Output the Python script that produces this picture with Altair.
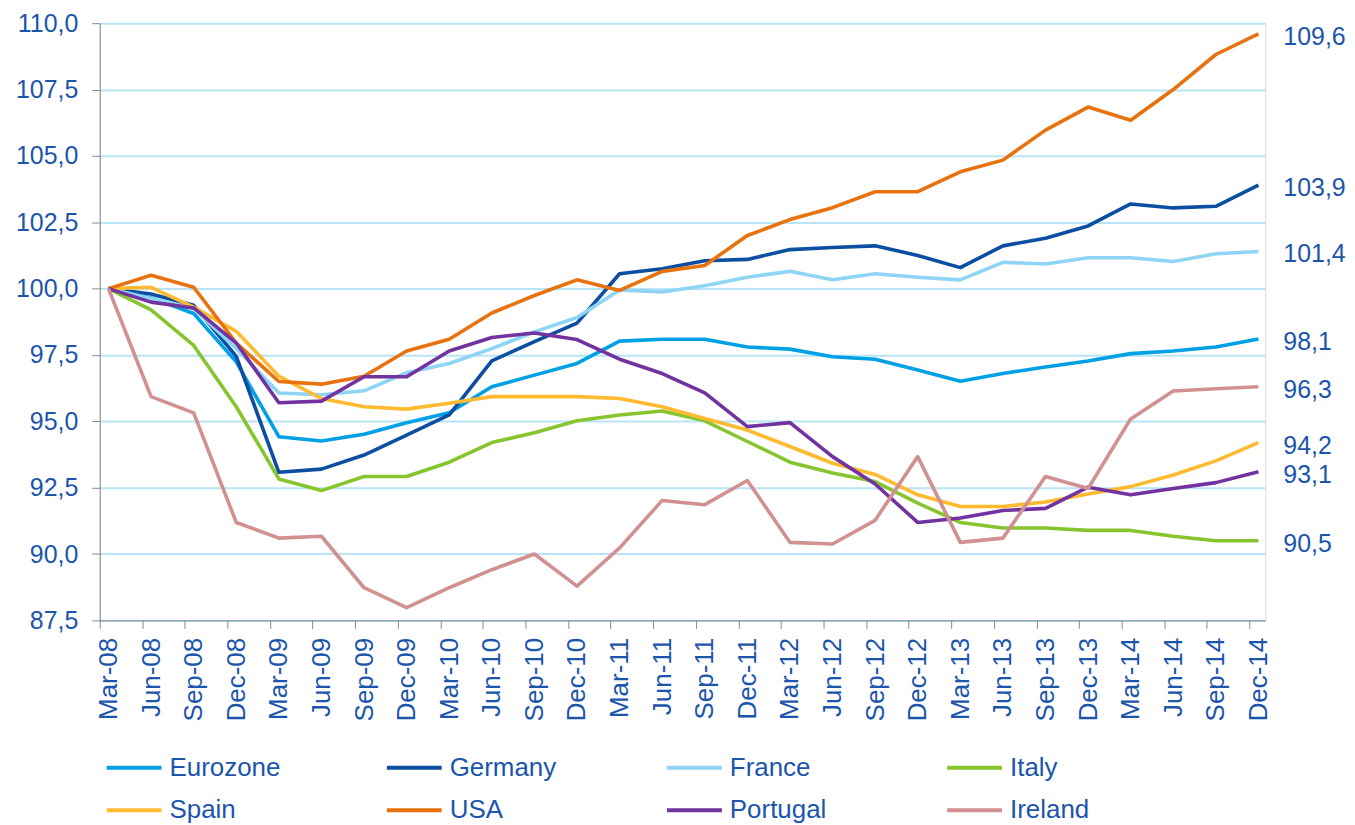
import altair as alt
import pandas as pd

quarters = ["Mar-08", "Jun-08", "Sep-08", "Dec-08", "Mar-09", "Jun-09", "Sep-09", "Dec-09",
            "Mar-10", "Jun-10", "Sep-10", "Dec-10", "Mar-11", "Jun-11", "Sep-11", "Dec-11",
            "Mar-12", "Jun-12", "Sep-12", "Dec-12", "Mar-13", "Jun-13", "Sep-13", "Dec-13",
            "Mar-14", "Jun-14", "Sep-14", "Dec-14"]

countries = ["Eurozone", "Germany", "France", "Italy", "Spain", "USA", "Portugal", "Ireland"]
colors = ["#00A0E4", "#0B4EA2", "#8ED4F5", "#86C52E", "#FFBA30", "#E8720E", "#7232A0", "#D09190"]

eurozone = [100.0, 99.65, 99.06, 97.24, 94.42, 94.26, 94.51, 94.95, 95.32, 96.3, 96.74, 97.18,
            98.02, 98.09, 98.09, 97.8, 97.72, 97.43, 97.34, 96.93, 96.51, 96.8, 97.05, 97.27,
            97.55, 97.65, 97.8, 98.1]
germany = [100.0, 99.8, 99.37, 97.45, 93.08, 93.2, 93.73, 94.48, 95.24, 97.28, 98.0, 98.7,
           100.56, 100.75, 101.05, 101.1, 101.47, 101.55, 101.61, 101.25, 100.79, 101.61, 101.9, 102.36,
           103.19, 103.04, 103.1, 103.9]
france = [100.0, 99.63, 99.25, 97.74, 96.07, 96.0, 96.15, 96.83, 97.18, 97.74, 98.37, 98.91,
          99.95, 99.87, 100.11, 100.43, 100.65, 100.33, 100.56, 100.43, 100.33, 100.99, 100.93, 101.16,
          101.16, 101.02, 101.31, 101.4]
italy = [100.0, 99.2, 97.86, 95.55, 92.83, 92.39, 92.92, 92.92, 93.46, 94.2, 94.57, 95.02,
         95.24, 95.39, 95.02, 94.24, 93.46, 93.05, 92.73, 91.92, 91.19, 90.98, 90.98, 90.89,
         90.89, 90.67, 90.5, 90.5]
spain = [100.0, 100.05, 99.3, 98.39, 96.7, 95.86, 95.55, 95.46, 95.68, 95.93, 95.93, 95.93,
         95.86, 95.55, 95.11, 94.67, 94.05, 93.42, 93.0, 92.23, 91.79, 91.79, 91.96, 92.26,
         92.54, 92.98, 93.51, 94.2]
usa = [100.0, 100.5, 100.05, 97.95, 96.5, 96.4, 96.7, 97.65, 98.09, 99.08, 99.74, 100.33,
       99.93, 100.65, 100.87, 102.0, 102.6, 103.05, 103.65, 103.65, 104.4, 104.84, 105.97, 106.84,
       106.34, 107.5, 108.82, 109.6]
portugal = [100.0, 99.49, 99.27, 97.95, 95.7, 95.76, 96.68, 96.68, 97.65, 98.16, 98.33, 98.08,
            97.34, 96.8, 96.07, 94.8, 94.95, 93.67, 92.64, 91.19, 91.36, 91.64, 91.72, 92.52,
            92.23, 92.47, 92.69, 93.1]
ireland = [100.0, 95.93, 95.32, 91.19, 90.6, 90.67, 88.73, 87.98, 88.73, 89.41, 90.0, 88.79,
           90.23, 92.02, 91.86, 92.77, 90.44, 90.38, 91.27, 93.67, 90.44, 90.6, 92.92, 92.47,
           95.09, 96.14, 96.23, 96.3]

series = [eurozone, germany, france, italy, spain, usa, portugal, ireland]
y_ticks = [87.5, 90.0, 92.5, 95.0, 97.5, 100.0, 102.5, 105.0, 107.5, 110.0]

rows = []
for name, vals in zip(countries, series):
    for i, v in enumerate(vals):
        rows.append({"idx": i, "quarter": quarters[i], "country": name, "value": v})
df = pd.DataFrame(rows)

end_df = pd.DataFrame({
    "idx": [len(quarters) - 1] * len(countries),
    "country": countries,
    "value": [s[-1] for s in series],
    "label": [f"{s[-1]:.1f}".replace(".", ",") for s in series],
})

TXT = "#1B55AC"
FONT = "Liberation Sans"
q_js = "[" + ",".join(f"'{q}'" for q in quarters) + "]"

x_scale = alt.Scale(domain=[-0.206, 27.16], nice=False, zero=False)
y_scale = alt.Scale(domain=[87.5, 110], nice=False, zero=False)

lines = alt.Chart(df).mark_line(strokeWidth=3.6, strokeJoin="round").encode(
    x=alt.X("idx:Q", scale=x_scale, title=None,
            axis=alt.Axis(values=list(range(len(quarters))), labelExpr=q_js + "[datum.value]",
                          labelAngle=-90, labelAlign="right", labelBaseline="middle",
                          labelFontSize=26, labelPadding=9, tickOffset=-9, labelOffset=9,
                          labelColor=TXT, labelFont=FONT,
                          grid=False, tickSize=8, labelOverlap=False)),
    y=alt.Y("value:Q", scale=y_scale, title=None,
            axis=alt.Axis(values=y_ticks, labelExpr="replace(format(datum.value, '.1f'), '.', ',')",
                          labelFontSize=25, labelPadding=14, tickSize=8, grid=True,
                          labelColor=TXT, labelFont=FONT,
                          gridColor="#B9E3F6", gridWidth=2)),
    color=alt.Color("country:N", sort=countries,
                    scale=alt.Scale(domain=countries, range=colors),
                    legend=alt.Legend(title=None, orient="none", legendX=5, legendY=717,
                                      direction="horizontal",
                                      columns=4, gridAlign="all", columnPadding=98, rowPadding=0,
                                      symbolType="stroke", symbolSize=3025, symbolStrokeWidth=4,
                                      labelFontSize=26, labelColor=TXT, labelFont=FONT,
                                      labelOffset=6, labelLimit=300, padding=0)),
    order=alt.Order("idx:Q"),
)

labels = alt.Chart(end_df).mark_text(align="left", baseline="middle", dx=25, dy=3,
                                     fontSize=25, font=FONT, color=TXT).encode(
    x=alt.X("idx:Q", scale=x_scale),
    y=alt.Y("value:Q", scale=y_scale),
    text="label:N",
)

chart = alt.layer(lines, labels).properties(
    width=1169, height=599,
    autosize=alt.AutoSizeParams(type="none"),
    padding={"left": 92, "top": 14, "right": 82, "bottom": 204},
).configure_view(stroke=None).configure_axis(
    domainColor=TXT, domainWidth=2, tickColor=TXT, tickWidth=2,
    labelColor=TXT, labelFont=FONT,
).configure(background="white")

chart.save("out.html", embed_options={"renderer": "svg", "actions": False})
